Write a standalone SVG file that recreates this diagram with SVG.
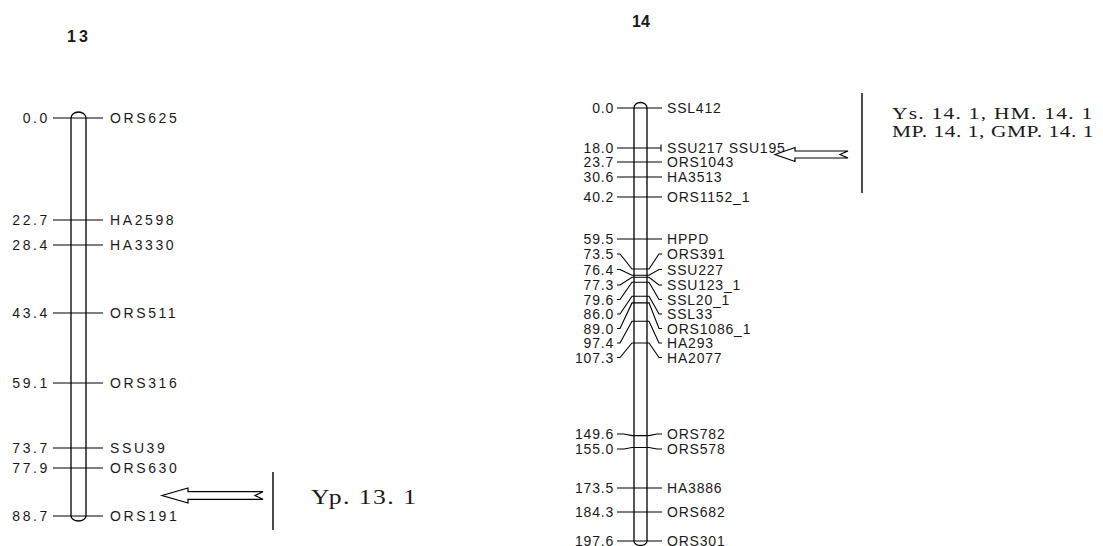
<svg xmlns="http://www.w3.org/2000/svg" width="1103" height="546" viewBox="0 0 1103 546">
<style>
.bar{fill:#fff;stroke:#000;stroke-width:1.3}
.tk{stroke:#000;stroke-width:1.1;fill:none}
.t13{font-family:"Liberation Sans",Arial,sans-serif;font-size:14px;letter-spacing:2.6px;fill:#1a1a1a}
.t14{font-family:"Liberation Sans",Arial,sans-serif;font-size:14px;letter-spacing:0.8px;fill:#1a1a1a}
.n13{text-anchor:end}
.n14{text-anchor:end}
.ttl{font-family:"Liberation Sans",Arial,sans-serif;font-size:16px;font-weight:bold;fill:#1a1a1a}
.qtl{font-family:"Liberation Serif","Times New Roman",serif;fill:#1a1a1a}
.arr{fill:#fff;stroke:#000;stroke-width:1.2;stroke-linejoin:miter}
.vl{stroke:#000;stroke-width:1.4}
</style>
<rect width="1103" height="546" fill="#fff"/>

<g id="chr13">
  <text class="ttl" x="67" y="42" style="letter-spacing:3px">13</text>
  <path class="bar" d="M71,118 A7.5,6 0 0 1 86,118 L86,516 A7.5,5 0 0 1 71,516 Z"/>
  <g class="tk">
    <line x1="53" y1="118" x2="103" y2="118"/>
    <line x1="53" y1="220" x2="103" y2="220"/>
    <line x1="53" y1="245" x2="103" y2="245"/>
    <line x1="53" y1="313" x2="103" y2="313"/>
    <line x1="53" y1="383" x2="103" y2="383"/>
    <line x1="53" y1="448" x2="103" y2="448"/>
    <line x1="53" y1="468" x2="103" y2="468"/>
    <line x1="53" y1="516" x2="103" y2="516"/>
  </g>
  <g class="t13 n13">
    <text x="50" y="123">0.0</text>
    <text x="50" y="225">22.7</text>
    <text x="50" y="250">28.4</text>
    <text x="50" y="318">43.4</text>
    <text x="50" y="388">59.1</text>
    <text x="50" y="453">73.7</text>
    <text x="50" y="473">77.9</text>
    <text x="50" y="521">88.7</text>
  </g>
  <g class="t13">
    <text x="110" y="123">ORS625</text>
    <text x="110" y="225">HA2598</text>
    <text x="110" y="250">HA3330</text>
    <text x="110" y="318">ORS511</text>
    <text x="110" y="388">ORS316</text>
    <text x="110" y="453">SSU39</text>
    <text x="110" y="473">ORS630</text>
    <text x="110" y="521">ORS191</text>
  </g>
</g>

<g id="chr14">
  <text class="ttl" x="632" y="27">14</text>
  <path class="bar" d="M634,108 A6.5,5.5 0 0 1 647,108 L647,541 A6.5,4.5 0 0 1 634,541 Z"/>
  <g class="tk">
    <line x1="617" y1="108" x2="662" y2="108"/>
    <line x1="617" y1="148" x2="661" y2="148"/>
    <line x1="661" y1="144.5" x2="661" y2="151.5"/>
    <line x1="617" y1="162" x2="662" y2="162"/>
    <line x1="617" y1="177" x2="662" y2="177"/>
    <line x1="617" y1="197" x2="662" y2="197"/>
    <line x1="617" y1="239" x2="662" y2="239"/>
    <polyline points="617,254 620,254 632,269 649,269 659,254 662,254"/>
    <polyline points="617,269.5 620,269.5 632,275.3 649,275.3 659,269.5 662,269.5"/>
    <polyline points="617,285 620,285 632,277.3 649,277.3 659,285 662,285"/>
    <polyline points="617,299.5 620,299.5 632,282.3 649,282.3 659,299.5 662,299.5"/>
    <polyline points="617,314 620,314 632,296.3 649,296.3 659,314 662,314"/>
    <polyline points="617,328.5 620,328.5 632,302.9 649,302.9 659,328.5 662,328.5"/>
    <polyline points="617,343 620,343 632,321.3 649,321.3 659,343 662,343"/>
    <polyline points="617,357.5 620,357.5 632,343 649,343 659,357.5 662,357.5"/>
    <polyline points="617,434 624,434 632,435.6 649,435.6 657,434 662,434"/>
    <polyline points="617,449 624,449 632,447.5 649,447.5 657,449 662,449"/>
    <line x1="617" y1="488" x2="662" y2="488"/>
    <line x1="617" y1="512" x2="662" y2="512"/>
    <line x1="617" y1="541" x2="662" y2="541"/>
  </g>
  <g class="t14 n14">
    <text x="614" y="113">0.0</text>
    <text x="614" y="153">18.0</text>
    <text x="614" y="167">23.7</text>
    <text x="614" y="182">30.6</text>
    <text x="614" y="202">40.2</text>
    <text x="614" y="244">59.5</text>
    <text x="614" y="259">73.5</text>
    <text x="614" y="274.5">76.4</text>
    <text x="614" y="290">77.3</text>
    <text x="614" y="304.5">79.6</text>
    <text x="614" y="319">86.0</text>
    <text x="614" y="333.5">89.0</text>
    <text x="614" y="348">97.4</text>
    <text x="614" y="362.5">107.3</text>
    <text x="614" y="439">149.6</text>
    <text x="614" y="454">155.0</text>
    <text x="614" y="493">173.5</text>
    <text x="614" y="517">184.3</text>
    <text x="614" y="545.5">197.6</text>
  </g>
  <g class="t14">
    <text x="667" y="113">SSL412</text>
    <text x="667" y="153">SSU217 SSU195</text>
    <text x="667" y="167">ORS1043</text>
    <text x="667" y="182">HA3513</text>
    <text x="667" y="202">ORS1152_1</text>
    <text x="667" y="244">HPPD</text>
    <text x="667" y="259">ORS391</text>
    <text x="667" y="274.5">SSU227</text>
    <text x="667" y="290">SSU123_1</text>
    <text x="667" y="304.5">SSL20_1</text>
    <text x="667" y="319">SSL33</text>
    <text x="667" y="333.5">ORS1086_1</text>
    <text x="667" y="348">HA293</text>
    <text x="667" y="362.5">HA2077</text>
    <text x="667" y="439">ORS782</text>
    <text x="667" y="454">ORS578</text>
    <text x="667" y="493">HA3886</text>
    <text x="667" y="517">ORS682</text>
    <text x="667" y="545.5">ORS301</text>
  </g>
</g>

<g id="qtl13">
  <line class="vl" x1="273" y1="472" x2="273" y2="530"/>
  <text class="qtl" transform="translate(311,504) scale(1.25,1)" x="0" y="0" font-size="20.5" textLength="84" lengthAdjust="spacing">Yp. 13. 1</text>
</g>

<g id="qtl14">
  <line class="vl" x1="862" y1="93" x2="862" y2="193"/>
  <text class="qtl" transform="translate(892,119) scale(1.3,1)" x="0" y="0" font-size="16.5" textLength="154" lengthAdjust="spacing">Ys. 14. 1, HM. 14. 1</text>
  <text class="qtl" transform="translate(892,137) scale(1.3,1)" x="0" y="0" font-size="16.5" textLength="155" lengthAdjust="spacing">MP. 14. 1, GMP. 14. 1</text>
</g>

<g id="connectors">
  <path class="arr" d="M162,495.5 L188,488 L188,491.7 L263,491.7 L255,495.5 L263,499.3 L188,499.3 L188,503 Z"/>
  <path class="arr" d="M775,154.5 L795,147.5 L795,151 L848,151 L840,154.5 L848,158 L795,158 L795,161.5 Z"/>
</g>
</svg>
